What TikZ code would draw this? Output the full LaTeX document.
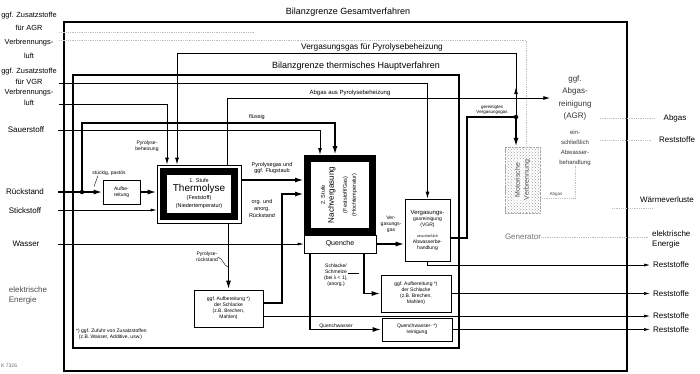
\documentclass[tikz,border=0pt]{standalone}
\usepackage{fontspec}
\setmainfont{Liberation Sans}
\usetikzlibrary{arrows.meta,patterns}

\begin{document}
\begin{tikzpicture}[x=1pt, y=-1pt,
    grenze/.style={line width=2.6pt},
    stoff/.style={line width=1.7pt, -{Latex[length=9pt,width=5pt]}},
    leitung/.style={line width=1pt, -{Latex[length=7pt,width=4pt]}},
    duenn/.style={line width=.6pt, -{Latex[length=6pt,width=3pt]}},
    blass/.style={gray!50, densely dotted, line width=.8pt},
    kasten/.style={draw, line width=.6pt, fill=white, align=center, inner sep=0pt, font=\fontsize{5}{6}\selectfont},
    klein/.style={font=\fontsize{5}{6}\selectfont, align=center, inner sep=0pt},
    gross/.style={font=\fontsize{8}{10}\selectfont, align=center, inner sep=0pt}]

    \useasboundingbox (0,0) rectangle (700,373);

    \draw[grenze] (64,22) rectangle (627,371);
    \draw[grenze] (73,75) rectangle (459,348);
    \node[gross, font=\fontsize{9}{10}\selectfont] (titel1) at (348,12) {Bilanzgrenze Gesamtverfahren};
    \node[gross, font=\fontsize{9}{10}\selectfont] (titel2) at (356,66) {Bilanzgrenze thermisches Hauptverfahren};

    \node[gross, font=\fontsize{7.4}{13.7}\selectfont] (l-agr) at (29,35) {ggf. Zusatzstoffe\\für AGR\\Verbrennungs-\\luft};
    \node[gross, font=\fontsize{7.4}{10.7}\selectfont] (l-vgr) at (29,87) {ggf. Zusatzstoffe\\für VGR\\Verbrennungs-\\luft};
    \node[gross] (l-o2) at (26,130) {Sauerstoff};
    \node[gross] (l-rueck) at (25,192) {Rückstand};
    \node[gross] (l-n2) at (25,211) {Stickstoff};
    \node[gross] (l-wasser) at (26,244) {Wasser};
    \node[gross, align=left, text=black!70] (l-strom) at (28,295) {elektrische\\Energie};
    \node[klein, anchor=west, text=black!60] (kennung) at (1,366) {K 7326};

    \coordinate (in-agr-z) at (59,32);
    \coordinate (end-agr-z) at (255,32);
    \coordinate (in-agr-l) at (59,40);
    \coordinate (in-vgr-z) at (59,83);
    \coordinate (in-luft) at (59,104);
    \coordinate (in-o2) at (58,130);
    \coordinate (in-rueck) at (58,192);
    \coordinate (rueckdot) at (82,192);
    \coordinate (in-n2) at (58,210);
    \coordinate (in-wasser) at (58,244);
    \coordinate (gasdot) at (516,117);

    \node[kasten, minimum width=37pt, minimum height=24pt] (aufb) at (121.5,192) {Aufbe-\\reitung};

    \node[draw, line width=.6pt, minimum width=84pt, minimum height=58pt] (thermo) at (199,194) {};
    \node[draw, line width=7pt, fill=white, minimum width=71pt, minimum height=45pt, align=center, inner sep=0pt, font=\fontsize{5.5}{8.3}\selectfont] (thermokern) at (199,194)
        {1. Stufe\\ {\fontsize{10}{10}\selectfont Thermolyse}\\ (Feststoff)\\ (Niedertemperatur)};

    \node[draw, line width=7pt, minimum width=65pt, minimum height=73pt] (nachv) at (340,195) {};
    \node[rotate=90, align=center, inner sep=0pt, font=\fontsize{5.5}{9}\selectfont] (nachvtext) at (339,195)
        {2. Stufe\\ {\fontsize{8}{9}\selectfont Nachvergasung}\\[4pt] (Feststoff/Gas)\\ (Hochtemperatur)};
    \node[kasten, minimum width=72pt, minimum height=18pt, font=\fontsize{7}{8}\selectfont] (quench) at (340,244) {Quenche};

    \node[kasten, minimum width=45pt, minimum height=62pt] (vgr) at (427.5,230)
        {\fontsize{6}{8.5}\selectfont Vergasungs-\\gasreinigung\\(VGR)\\[5pt] \fontsize{3.5}{4.2}\selectfont einschließlich\\Abwasserbe-\\handlung};
    \node[kasten, minimum width=69pt, minimum height=37pt] (schl1) at (228.5,308.5) {ggf.\ Aufbereitung *)\\der Schlacke\\(z.B. Brechen,\\Mahlen)};
    \node[kasten, minimum width=70pt, minimum height=37pt] (schl2) at (416,293.5) {ggf.\ Aufbereitung *)\\der Schlacke\\(z.B. Brechen,\\Mahlen)};
    \node[kasten, minimum width=70pt, minimum height=23pt] (qwr) at (417,329.5) {Quenchwasser- *)\\reinigung};
    \node[klein, align=left, anchor=north west] (fussnote) at (76,329) {*) ggf. Zufuhr von Zusatzstoffen\\\ \ (z.B. Wasser, Additive, usw.)};

    \node[draw=gray!70, densely dotted, pattern=crosshatch dots, pattern color=gray!75, minimum width=35pt, minimum height=66pt] (motor) at (522.5,180) {};
    \node[rotate=90, align=center, inner sep=1pt, fill=white, fill opacity=.5, text opacity=1, text=black!70, font=\fontsize{7}{9}\selectfont] (motortext) at (motor) {Motorische\\Verbrennung};
    \node[gross, inner xsep=8pt, font=\fontsize{8}{12.3}\selectfont, text=black!80] (agr) at (575,98) {ggf.\\Abgas-\\reinigung\\(AGR)};
    \node[klein, font=\fontsize{6}{10}\selectfont, text=black!80] (agrtext) at (575,148) {ein-\\schließlich\\Abwasser-\\behandlung};
    \node[gross, text=black!55] (gen) at (523,237) {Generator};

    \coordinate (agr-r1) at (600,118);
    \coordinate (agr-r2) at (600,140);
    \coordinate (agr-r3) at (612,208);
    \coordinate (out-abgas) at (655,118);
    \coordinate (out-rest0) at (652,140);
    \coordinate (out-waerme) at (652,208);
    \coordinate (out-strom) at (648,237);
    \coordinate (out-r1) at (650,265);
    \coordinate (out-r2) at (650,293.5);
    \coordinate (out-r3) at (650,316);
    \coordinate (out-r4) at (650,329.5);

    \draw[blass] (in-agr-z) -- (end-agr-z);
    \draw[blass] (in-agr-l) -| ([xshift=4pt]motor.north);
    \draw[blass] ([yshift=-18pt]motor.east) -| (agrtext.south);
    \draw[blass] (agr-r1) -- (out-abgas);
    \draw[blass] (agr-r2) -- (out-rest0);
    \draw[blass] (agr-r3) -- (out-waerme);
    \draw[blass] (gen.east) -- (out-strom);
    \node[klein, font=\fontsize{4.5}{5}\selectfont, text=black!70] (t-abgas) at (556,194) {Abgas};

    \draw[leitung] (in-vgr-z) -| (vgr.north);
    \draw[leitung] (in-luft) -| ([xshift=-32pt]thermo.north);
    \draw[leitung] (gasdot) -- ++(0,-64) -| ([xshift=-22pt]thermo.north);
    \draw[leitung] (gasdot) -- ++(0,-30);
    \draw[leitung] ([xshift=28pt]thermo.north) |- (agr.west);
    \draw[leitung] (in-o2) -| ([xshift=-20pt]nachv.north);
    \draw[duenn] (in-n2) -- (in-n2 -| thermo.west);
    \draw[duenn] (in-wasser) -- (in-wasser -| quench.west);

    \draw[stoff] (in-rueck) -- (aufb.west);
    \draw[stoff] (rueckdot) -- ++(0,-69) -| ([xshift=-5pt]nachv.north);
    \draw[stoff] (aufb.east) -- (aufb.east -| thermo.west);
    \draw[stoff] ([yshift=14pt]thermo.east) -- ([yshift=15pt]nachv.west);
    \draw[stoff] (thermo.south -| schl1.north) -- (schl1.north);
    \draw[stoff] ([yshift=5.5pt]schl1.east) -- ++(19,0) |- ([yshift=1pt]nachv.west);
    \draw[stoff] (quench.east) -- (quench.east -| vgr.west);
    \draw[stoff] ([xshift=24pt]quench.south) |- (schl2.west);
    \draw[stoff] ([xshift=-30pt]quench.south) |- (qwr.west);
    \draw[stoff, -] ([yshift=-8pt]vgr.east) -- ++(17,0) |- (gasdot);
    \draw[stoff] (gasdot) -- (gasdot |- motor.north);
    \fill (rueckdot) circle (2.2pt);
    \fill (gasdot) circle (2.2pt);

    \draw[duenn] (vgr.south) |- (out-r1);
    \draw[duenn] (schl2.east) -- (out-r2);
    \draw[duenn] ([yshift=-7.5pt]schl1.east) -- (out-r3);
    \draw[duenn] (qwr.east) -- (out-r4);

    \node[gross] (r-abgas) at (675,118) {Abgas};
    \node[gross] (r-rest0) at (677,140) {Reststoffe};
    \node[gross] (r-waerme) at (667,200) {Wärmeverluste};
    \node[gross, align=left, anchor=west] (r-strom) at (652,239) {elektrische\\Energie};
    \foreach \y/\n in {265/1, 293.5/2, 316/3, 329.5/4}
    \node[gross, anchor=west] (r-rest\n) at (653,\y) {Reststoffe};

    \node[klein] (t-stueckig) at (109,173) {stückig, pastös};
    \draw[line width=.4pt] ([xshift=-11pt]t-stueckig.south) -- ++(-4,11);
    \node[klein] (t-heiz) at (147,146) {Pyrolyse-\\beheizung};
    \node[klein, font=\fontsize{5.5}{6}\selectfont] (t-fluessig) at (257,117) {flüssig};
    \node[klein, font=\fontsize{6}{7}\selectfont] (t-abgaspyr) at (350,93) {Abgas aus Pyrolysebeheizung};
    \node[gross, font=\fontsize{8.3}{10}\selectfont] (t-vgpyr) at (372,47) {Vergasungsgas für Pyrolysebeheizung};
    \node[klein, font=\fontsize{5.5}{6.5}\selectfont] (t-pyrgas) at (272,168) {Pyrolysegas und\\ggf. Flugstaub};
    \node[klein, font=\fontsize{5.5}{7}\selectfont] (t-org) at (262,209) {org. und\\anorg.\\Rückstand};
    \node[klein] (t-pyrr) at (207,257) {Pyrolyse-\\rückstand};
    \draw[line width=.4pt] (t-pyrr.east) to[out=-20, in=160] ([yshift=-44pt]thermo.south -| schl1.north);
    \node[klein] (t-vg) at (391,224) {Ver-\\gasungs-\\gas};
    \node[klein] (t-schl) at (336,275) {Schlacke/\\Schmelze\\(bei λ < 1),\\(anorg.)};
    \draw[line width=.4pt] ([yshift=2pt]t-schl.east) -- ++(11,0);
    \node[klein] (t-qw) at (336,326) {Quenchwasser};
    \node[klein, font=\fontsize{4.5}{5.5}\selectfont] (t-gerein) at (492,110) {gereinigtes\\Vergasungsgas};

\end{tikzpicture}
\end{document}
